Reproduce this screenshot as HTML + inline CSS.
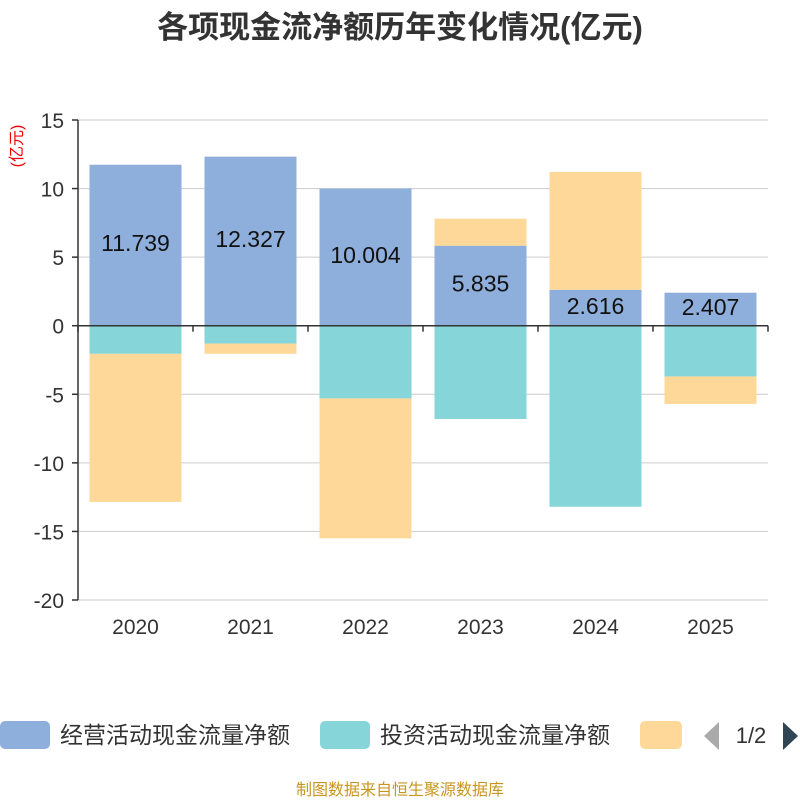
<!DOCTYPE html>
<html><head><meta charset="utf-8">
<style>
body{margin:0;background:#fff;font-family:"Liberation Sans","Noto Sans CJK SC",sans-serif;}
svg text{font-family:"Liberation Sans","Noto Sans CJK SC",sans-serif;}
</style></head>
<body>
<svg id="chart" width="800" height="800" xmlns="http://www.w3.org/2000/svg">
<text x="400" y="38" text-anchor="middle" font-size="31" font-weight="bold" fill="#333">各项现金流净额历年变化情况(亿元)</text>
<text transform="translate(22,146) rotate(-90)" text-anchor="middle" font-size="16" fill="#e00">(亿元)</text>
<g id="grid"></g><g id="bars"></g><g id="axes"></g>
<g>
<rect x="0" y="721" width="50" height="28" rx="5" fill="#8eaedb"/>
<text x="60" y="743" font-size="23" fill="#333">经营活动现金流量净额</text>
<rect x="320" y="721" width="50" height="28" rx="5" fill="#86d5d9"/>
<text x="380" y="743" font-size="23" fill="#333">投资活动现金流量净额</text>
<rect x="640" y="721" width="42" height="28" rx="5" fill="#fed898"/>
<polygon points="719,722 719,750 704,736" fill="#aaa"/>
<text x="751" y="743" text-anchor="middle" font-size="22" fill="#333">1/2</text>
<polygon points="783,722 783,750 798,736" fill="#2f4554"/>
</g>
<text x="400" y="795" text-anchor="middle" font-size="16" fill="#c8961e">制图数据来自恒生聚源数据库</text>
</svg>
<script>
const categories=["2020","2021","2022","2023","2024","2025"];
const operating=[11.739,12.327,10.004,5.835,2.616,2.407];
const investing=[-2.05,-1.3,-5.3,-6.8,-13.2,-3.7];
const financing=[-10.8,-0.75,-10.2,1.97,8.6,-2.0];
const yTicks=[15,10,5,0,-5,-10,-15,-20];
const NS="http://www.w3.org/2000/svg";
const x0=78,x1=768,yTop=120,yBot=600,vMax=15,vMin=-20;
const y=v=>yTop+(vMax-v)/(vMax-vMin)*(yBot-yTop);
const band=(x1-x0)/categories.length;
const xc=i=>x0+band*(i+0.5);
function mk(tag,attrs,parent){const e=document.createElementNS(NS,tag);for(const k in attrs)e.setAttribute(k,attrs[k]);parent.appendChild(e);return e;}
const grid=document.getElementById('grid'),bars=document.getElementById('bars'),axes=document.getElementById('axes');
yTicks.forEach(t=>{
 const l=mk('line',{x1:x0,x2:x1,y1:y(t),y2:y(t),stroke:'#ccc','stroke-width':1},grid);
 
 
 const tx=mk('text',{x:x0-14,y:y(t)+8,'text-anchor':'end','font-size':21,fill:'#333'},axes);
 tx.textContent=t;
 
 
});
const series=[[operating,'#8eaedb','bar-operating'],[investing,'#86d5d9','bar-investing'],[financing,'#fed898','bar-financing']];
categories.forEach((c,i)=>{
 let pos=0,neg=0;const w=92;
 series.forEach(([arr,col,name])=>{
  const v=arr[i];let a,b;
  if(v>=0){a=pos;b=pos+v;pos=b;}else{a=neg;b=neg+v;neg=b;}
  const r=mk('rect',{x:xc(i)-w/2,y:Math.min(y(a),y(b)),width:w,height:Math.abs(y(b)-y(a)),fill:col},bars);
  
  
 });
 const v=operating[i];
 const lb=mk('text',{x:xc(i),y:y(v/2)+6,'text-anchor':'middle','font-size':23,fill:'#111'},bars);
 lb.textContent=v.toFixed(3);
 
 
 const xl=mk('text',{x:xc(i),y:634,'text-anchor':'middle','font-size':21,fill:'#333'},axes);
 xl.textContent=c;
 
 
});
const ya=mk('line',{x1:x0,x2:x0,y1:yTop,y2:yBot,stroke:'#333','stroke-width':1.5},axes);


const xa=mk('line',{x1:x0,x2:x1,y1:y(0),y2:y(0),stroke:'#333','stroke-width':1.5},axes);


for(let i=0;i<=categories.length;i++){
 const tk=mk('line',{x1:x0+band*i,x2:x0+band*i,y1:y(0),y2:y(0)+6,stroke:'#333','stroke-width':1.5},axes);
 
 
}
yTicks.forEach(t=>{
 const tk=mk('line',{x1:x0-6,x2:x0,y1:y(t),y2:y(t),stroke:'#333','stroke-width':1.5},axes);
 
 
});
</script>
</body></html>
